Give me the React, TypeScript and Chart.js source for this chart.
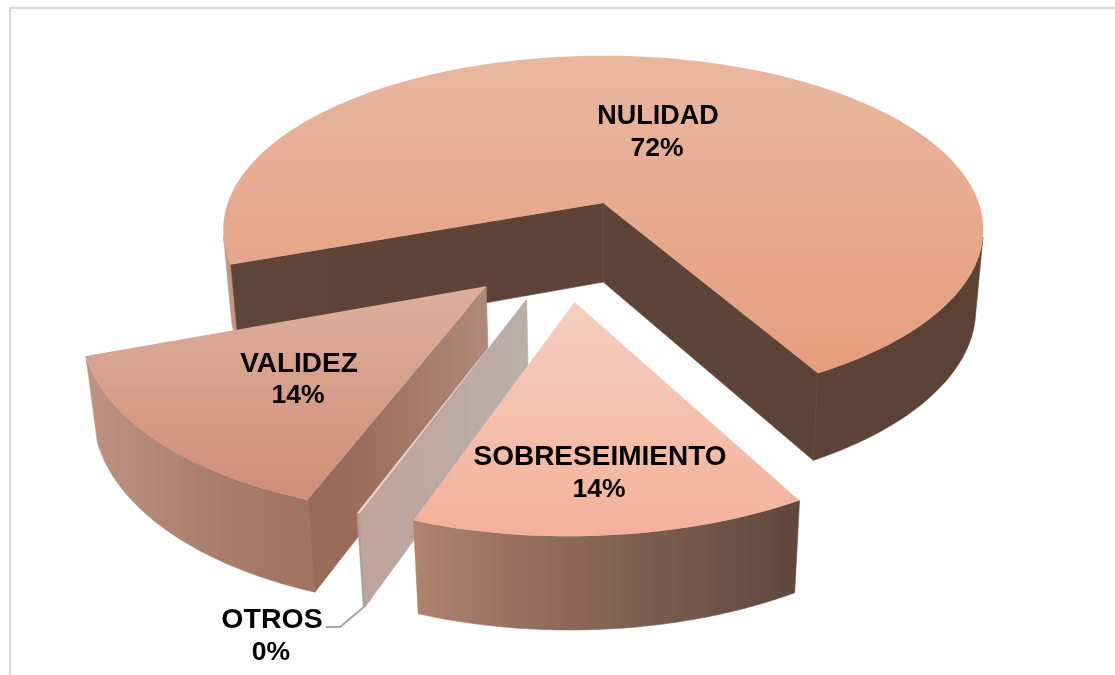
import React, { useEffect, useRef } from "react";
import { Chart, registerables } from "chart.js";

Chart.register(...registerables);

const categories = ["NULIDAD", "SOBRESEIMIENTO", "OTROS", "VALIDEZ"];
const shares = [72.3, 13.64, 0.1, 13.96];
const topColors = [
  ["#E9B7A0", "#E59D7D"],
  ["#F4CFC0", "#F4B199"],
  ["#F2DCD2", "#F0D2C6"],
  ["#DDAE9E", "#D08E76"],
];
const rimColors = [
  ["#CB9880", "#5E4438", "#5E4438", "#5C4235"],
  ["#AF8471", "#8F6C5C", "#765A4C", "#5F473C"],
  ["#AFA09B", "#A89A96", "#A89A96", "#A89A96"],
  ["#BC9482", "#A97D69", "#9C6E5B", "#8F5F4C"],
];
const wallColors = [
  ["#5F4539", "#5E4438", "#5E4438", "#5C4235"],
  ["#AF8471", "#8F6C5C", "#765A4C", "#5F473C"],
  ["#BFA39B", "#BDA6A0", "#BAABA4", "#B9AFA9"],
  ["#946854", "#946854", "#9A6D5A", "#AF8A7A"],
];
const labelCenters = [
  [658, 117, 149],
  [600, 457, 490],
  [272, 620, 653],
  [299, 364, 396],
];
const nameSizes = [27, 28, 28.5, 28];
const percentSize = 26.5;
const sliceRadius = [0.995, 0.968, 0.957, 0.975];
const drawOrder = [0, 3, 2, 1];
const leader = [
  [326, 627],
  [340, 627],
  [365, 606],
];

const VIEW = { cx: 603, cy: 203, R: 377.4, Ry: 170.8, H: 80.6, k: 0.154, n: 0.02 };
const EXPLOSION = 0.275;
const PIE_CENTER = [-0.094, 0.2585];

function project(X: number, Y: number, Z: number) {
  const w = 1 / (1 - VIEW.k * Y + VIEW.n * Z);
  return [VIEW.cx + VIEW.R * X * w, VIEW.cy + VIEW.Ry * Y * w + VIEW.H * Z * w];
}

function poly(ctx: CanvasRenderingContext2D, pts: number[][]) {
  ctx.beginPath();
  pts.forEach((p, i) => (i ? ctx.lineTo(p[0], p[1]) : ctx.moveTo(p[0], p[1])));
  ctx.closePath();
}

function area(pts: number[][]) {
  let s = 0;
  pts.forEach((p, i) => {
    const q = pts[(i + 1) % pts.length];
    s += p[0] * q[1] - q[0] * p[1];
  });
  return s;
}

function gradient(ctx: CanvasRenderingContext2D, x0: number, y0: number, x1: number, y1: number, stops: string[]) {
  const g = ctx.createLinearGradient(x0, y0, x1, y1);
  stops.forEach((c, i) => g.addColorStop(i / (stops.length - 1), c));
  return g;
}

const pie3d = {
  id: "pie3d",
  beforeDraw(chart: any) {
    const { ctx, width, height } = chart;
    ctx.save();
    ctx.fillStyle = "#D9D9D9";
    ctx.fillRect(9, 7, width - 9, 2);
    ctx.fillRect(9, 7, 2, height - 7);
    ctx.restore();
  },
  beforeDatasetsDraw(chart: any) {
    const { ctx } = chart;
    const arcs = chart.getDatasetMeta(0).data;
    ctx.save();
    drawOrder.forEach((i) => {
      const { startAngle, endAngle } = arcs[i];
      const mid = (startAngle + endAngle) / 2;
      const ox = PIE_CENTER[0] + EXPLOSION * Math.cos(mid);
      const oy = PIE_CENTER[1] + EXPLOSION * Math.sin(mid);
      const r = sliceRadius[i];
      const ground: number[][] = [];
      const steps = Math.max(2, Math.ceil((endAngle - startAngle) / 0.02));
      for (let s = 0; s <= steps; s++) {
        const a = startAngle + ((endAngle - startAngle) * s) / steps;
        ground.push([ox + r * Math.cos(a), oy + r * Math.sin(a)]);
      }
      const top = ground.map((g) => project(g[0], g[1], 0));
      const bot = ground.map((g) => project(g[0], g[1], 1));
      const apexT = project(ox, oy, 0);
      const apexB = project(ox, oy, 1);
      const outline = [apexT, ...top];
      const xs = [...outline, ...bot, apexB].map((p) => p[0]);
      const ys = outline.map((p) => p[1]);
      const xMin = Math.min(...xs);
      const xMax = Math.max(...xs);
      const rimFill = gradient(ctx, xMin, 0, xMax, 0, rimColors[i]);
      const wallFill = gradient(ctx, xMin, 0, xMax, 0, wallColors[i]);
      ctx.lineWidth = 0.6;
      ctx.lineJoin = "round";

      // rim: contiguous front-facing runs
      let run: number[] = [];
      const flush = () => {
        if (run.length > 1) {
          const pts = [...run.map((n) => top[n]), ...run.slice().reverse().map((n) => bot[n])];
          poly(ctx, pts);
          ctx.fillStyle = rimFill;
          ctx.strokeStyle = rimFill;
          ctx.fill();
          ctx.stroke();
        }
        run = [];
      };
      for (let s = 0; s < steps; s++) {
        const visible = area([top[s], top[s + 1], bot[s + 1], bot[s]]) < 0;
        if (visible) {
          if (!run.length) run.push(s);
          run.push(s + 1);
        } else flush();
      }
      flush();

      // radial walls, where they face the viewer
      const walls = [
        [apexT, top[0], bot[0], apexB],
        [top[steps], apexT, apexB, bot[steps]],
      ];
      walls.forEach((w) => {
        if (area(w) < 0) {
          poly(ctx, w);
          ctx.fillStyle = wallFill;
          ctx.strokeStyle = wallFill;
          ctx.fill();
          ctx.stroke();
        }
      });

      // top face
      poly(ctx, outline);
      ctx.fillStyle = gradient(ctx, 0, Math.min(...ys), 0, Math.max(...ys), topColors[i]);
      ctx.fill();
    });

    // leader line of the smallest slice
    ctx.strokeStyle = "#A6A6A6";
    ctx.lineWidth = 2;
    ctx.beginPath();
    leader.forEach((p, n) => (n ? ctx.lineTo(p[0], p[1]) : ctx.moveTo(p[0], p[1])));
    ctx.stroke();

    // labels
    ctx.fillStyle = "#000000";
    ctx.textAlign = "center";
    ctx.textBaseline = "middle";
    categories.forEach((name, i) => {
      const [x, y1, y2] = labelCenters[i];
      ctx.font = `bold ${nameSizes[i]}px 'Liberation Sans', Arial, sans-serif`;
      ctx.fillText(name, x, y1);
      ctx.font = `bold ${percentSize}px 'Liberation Sans', Arial, sans-serif`;
      ctx.fillText(`${Math.round(shares[i])}%`, x - 1, y2);
    });
    ctx.restore();
    return false;
  },
};

export default function App() {
  const ref = useRef<HTMLCanvasElement | null>(null);
  useEffect(() => {
    document.body.style.margin = "0";
    document.body.style.overflow = "hidden";
    const chart = new Chart(ref.current as HTMLCanvasElement, {
      type: "pie",
      data: {
        labels: categories,
        datasets: [{ data: shares, backgroundColor: topColors.map((c) => c[1]), borderWidth: 0 }],
      },
      options: {
        responsive: false,
        animation: false,
        rotation: 250,
        plugins: { legend: { display: false }, tooltip: { enabled: false } },
      },
      plugins: [pie3d],
    } as any);
    return () => chart.destroy();
  }, []);
  return <canvas ref={ref} width={1115} height={675} style={{ display: "block", background: "#fff" }} />;
}
